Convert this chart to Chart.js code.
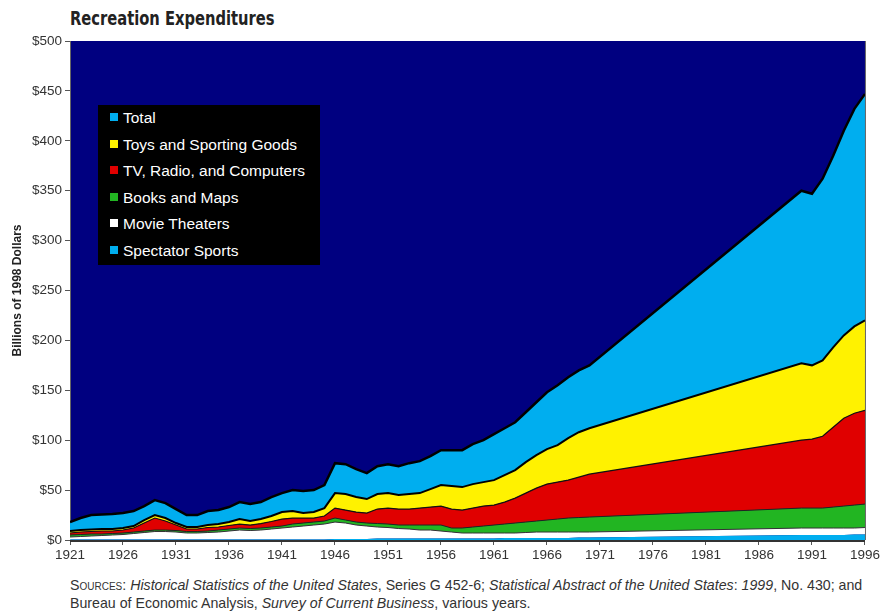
<!DOCTYPE html>
<html lang="en">
<head>
  <meta charset="UTF-8">
  <title>Recreation Expenditures</title>
  <script src="https://cdn.jsdelivr.net/npm/chart.js"></script>
  <style>
    body { margin: 0; background: #fff; font-family: "Liberation Sans", Arial, sans-serif; }
    .wrap { position: relative; width: 882px; height: 613px; }
    h1 {
      position: absolute; left: 70px; top: 7px; margin: 0;
      font-family: "Liberation Sans Narrow", "DejaVu Sans Condensed", "Liberation Sans", sans-serif;
      font-size: 19px; font-weight: bold; color: #222;
      transform: scaleX(0.86); transform-origin: left center; white-space: nowrap;
    }
    #grafico { position: absolute; left: 0; top: 0; }
    .leyenda {
      position: absolute; left: 98px; top: 105px; width: 222px; height: 160px;
      background: #000; padding-top: 0; box-sizing: border-box;
    }
    .leyenda div { height: 26.5px; line-height: 26.5px; color: #fff; font-size: 15.5px; padding-left: 12px; }
    .leyenda span { display: inline-block; width: 8px; height: 8px; margin-right: 5px; vertical-align: 2px; }
    .fuentes {
      position: absolute; left: 70px; top: 576px; font-size: 14.2px; line-height: 18px; color: #333;
      white-space: nowrap;
    }
    .sc { font-variant: small-caps; }
  </style>
</head>
<body>
  <div class="wrap">
    <h1>Recreation Expenditures</h1>
    <canvas id="grafico" width="882" height="575"></canvas>
    <div class="leyenda" id="leyenda"></div>
    <div class="fuentes">
      <span class="sc">Sources</span>: <i>Historical Statistics of the United States</i>, Series G 452-6; <i>Statistical Abstract of the United States</i>: <i>1999</i>, No. 430; and<br>
      Bureau of Economic Analysis, <i>Survey of Current Business</i>, various years.
    </div>
  </div>

  <script>
    // Years with data (1971-1989 not in the series)
    const years = [1921, 1922, 1923, 1924, 1925, 1926, 1927, 1928, 1929, 1930,
      1931, 1932, 1933, 1934, 1935, 1936, 1937, 1938, 1939, 1940,
      1941, 1942, 1943, 1944, 1945, 1946, 1947, 1948, 1949, 1950,
      1951, 1952, 1953, 1954, 1955, 1956, 1957, 1958, 1959, 1960,
      1961, 1962, 1963, 1964, 1965, 1966, 1967, 1968, 1969, 1970,
      1990, 1991, 1992, 1993, 1994, 1995, 1996];

    // Billions of 1998 dollars
    const spectatorSports = [0.5, 0.5, 0.5, 0.5, 0.5, 0.5, 0.5, 0.5, 0.5, 0.5,
      0.5, 0.5, 0.5, 0.5, 0.5, 0.5, 0.5, 0.5, 0.5, 0.5,
      0.5, 0.5, 0.5, 0.5, 0.5, 1, 1, 1, 1, 1.5,
      1.5, 1.5, 1.5, 1.5, 1.5, 1.5, 1.5, 1.5, 1.5, 1.5,
      1.5, 2, 2, 2, 2, 2, 2, 2, 2.5, 2.5,
      5, 5, 5, 5, 5, 5.5, 5.5];
    const movieTheaters = [2.5, 3, 3.5, 4, 4.5, 5, 6, 7, 8, 8,
      7.5, 6.5, 6.5, 7, 7.5, 8.5, 9.5, 9, 9.5, 10.5,
      11.5, 12.5, 13.5, 14.5, 15.5, 17, 16, 14, 13, 11.5,
      11, 10, 9.5, 8.5, 8.5, 7.5, 6.5, 5.5, 5.5, 5.5,
      5.5, 5, 5, 5.5, 6, 6, 6, 6, 5.5, 5.5,
      7, 7, 7, 7, 7, 6.5, 7];
    const booksMaps = [2, 2, 2, 1.5, 1.5, 1.5, 1.5, 1.5, 1.5, 1.5,
      1.5, 1.5, 1.5, 1.5, 2, 2, 2, 2, 2, 2,
      2, 3, 3, 3, 3, 4, 3, 3, 3, 3.5,
      3.5, 3.5, 4, 5, 5, 6, 4, 5, 6, 7,
      8, 9, 10, 10.5, 11, 12, 13, 14, 14.5, 15,
      20, 20, 20, 21, 22, 23, 23.5];
    const tvRadioComputers = [2, 2.5, 2.5, 3, 2.5, 3, 4, 8, 12, 9,
      5.5, 2.5, 2.5, 3.5, 3, 3.5, 4, 3.5, 4.5, 5.5,
      7, 6, 5, 4, 5, 10, 10, 10, 10, 14.5,
      16, 16, 16, 17, 18, 19, 19, 18, 19, 20,
      20, 22, 25, 29, 33, 36, 37, 38, 40.5, 43,
      68, 69, 72, 80, 88, 92, 94];
    const toysSporting = [2, 2, 2, 2, 2, 2, 2, 3, 3, 3,
      2, 2, 2, 2.5, 3, 3.5, 5, 4, 4.5, 5.5,
      7, 7, 5, 6, 8, 15, 16, 15, 14, 15,
      15, 14, 15, 15, 18, 21, 23, 23, 24, 24,
      25, 27, 28, 31, 33, 35, 37, 42, 45, 46,
      77, 74, 76, 80, 83, 87, 90];
    const total = [18, 22, 25, 25.5, 26, 27, 29, 34, 40, 37,
      31, 25, 25, 29, 30, 33, 38, 36, 38, 43,
      47, 50, 49, 50, 55, 77, 76, 71, 67, 74,
      76, 74, 77, 79, 84, 90, 90, 90, 96, 100,
      106, 112, 118, 128, 138, 148, 155, 163, 170, 175,
      350, 347, 362, 385, 410, 432, 447];

    const tickYears = [1921, 1926, 1931, 1936, 1941, 1946, 1951, 1956, 1961, 1966,
      1971, 1976, 1981, 1986, 1991, 1996];

    // Lo que queda hasta el total (banda superior "Total")
    const resto = total.map((t, i) => t - spectatorSports[i] - movieTheaters[i] -
      booksMaps[i] - tvRadioComputers[i] - toysSporting[i]);

    const azul = '#00aeef';
    const series = [
      { label: 'Spectator Sports', data: spectatorSports, color: azul, line: 'rgba(0,0,0,0)', w: 0 },
      { label: 'Movie Theaters', data: movieTheaters, color: '#ffffff', line: '#333', w: 1 },
      { label: 'Books and Maps', data: booksMaps, color: '#22b522', line: '#222', w: 1 },
      { label: 'TV, Radio, and Computers', data: tvRadioComputers, color: '#e00000', line: '#111', w: 1.2 },
      { label: 'Toys and Sporting Goods', data: toysSporting, color: '#fff200', line: '#000', w: 2 },
      { label: 'Total', data: resto, color: azul, line: '#000', w: 2.5 }
    ];

    // Leyenda (de arriba hacia abajo)
    const leyenda = document.getElementById('leyenda');
    series.slice().reverse().forEach(s => {
      const d = document.createElement('div');
      d.innerHTML = '<span style="background:' + s.color + '"></span>' + s.label;
      leyenda.appendChild(d);
    });

    const fondo = {
      id: 'fondo',
      beforeDraw(chart) {
        const a = chart.chartArea, ctx = chart.ctx;
        ctx.save();
        ctx.fillStyle = '#000080';
        ctx.fillRect(a.left, a.top, a.right - a.left, a.bottom - a.top);
        ctx.restore();
      },
      afterDraw(chart) {
        const a = chart.chartArea, ctx = chart.ctx;
        ctx.save();
        ctx.strokeStyle = '#666';
        ctx.lineWidth = 1;
        ctx.beginPath();
        ctx.moveTo(a.right + 0.5, a.top);
        ctx.lineTo(a.right + 0.5, a.bottom);
        ctx.stroke();
        ctx.strokeStyle = '#333';
        ctx.lineWidth = 2;
        ctx.beginPath();
        ctx.moveTo(a.left, a.bottom + 1);
        ctx.lineTo(a.right, a.bottom + 1);
        ctx.stroke();
        ctx.restore();
      }
    };

    const fuenteEje = { family: '"Liberation Sans", Arial, sans-serif', size: 13.5 };

    new Chart(document.getElementById('grafico'), {
      type: 'line',
      data: {
        labels: years,
        datasets: series.map((s, i) => ({
          label: s.label,
          data: s.data,
          backgroundColor: s.color,
          borderColor: s.line,
          borderWidth: s.w,
          fill: i === 0 ? 'origin' : '-1',
          pointRadius: 0,
          tension: 0
        }))
      },
      options: {
        responsive: false,
        animation: false,
        layout: { padding: { top: 41, right: 16, left: 0, bottom: 0 } },
        plugins: {
          legend: { display: false },
          tooltip: { enabled: false }
        },
        scales: {
          x: {
            type: 'linear',
            min: 1921,
            max: 1996,
            afterBuildTicks: scale => { scale.ticks = tickYears.map(v => ({ value: v })); },
            afterFit: scale => { scale.height = 35; },
            grid: { drawOnChartArea: false, tickLength: 5, color: '#555' },
            border: { display: false },
            ticks: { color: '#333', font: fuenteEje, padding: 2, maxRotation: 0, callback: v => String(v) }
          },
          y: {
            stacked: true,
            min: 0,
            max: 500,
            afterFit: scale => { scale.width = 70; },
            grid: { drawOnChartArea: false, tickLength: 5, color: '#555' },
            border: { color: '#666' },
            ticks: { stepSize: 50, color: '#333', font: fuenteEje, padding: 3, callback: v => '$' + v },
            title: {
              display: true,
              text: 'Billions of 1998 Dollars',
              color: '#222',
              font: { family: '"Liberation Sans", Arial, sans-serif', size: 12, weight: 'bold' },
              padding: { top: 10, bottom: 0 }
            }
          }
        }
      },
      plugins: [fondo]
    });
  </script>
</body>
</html>
